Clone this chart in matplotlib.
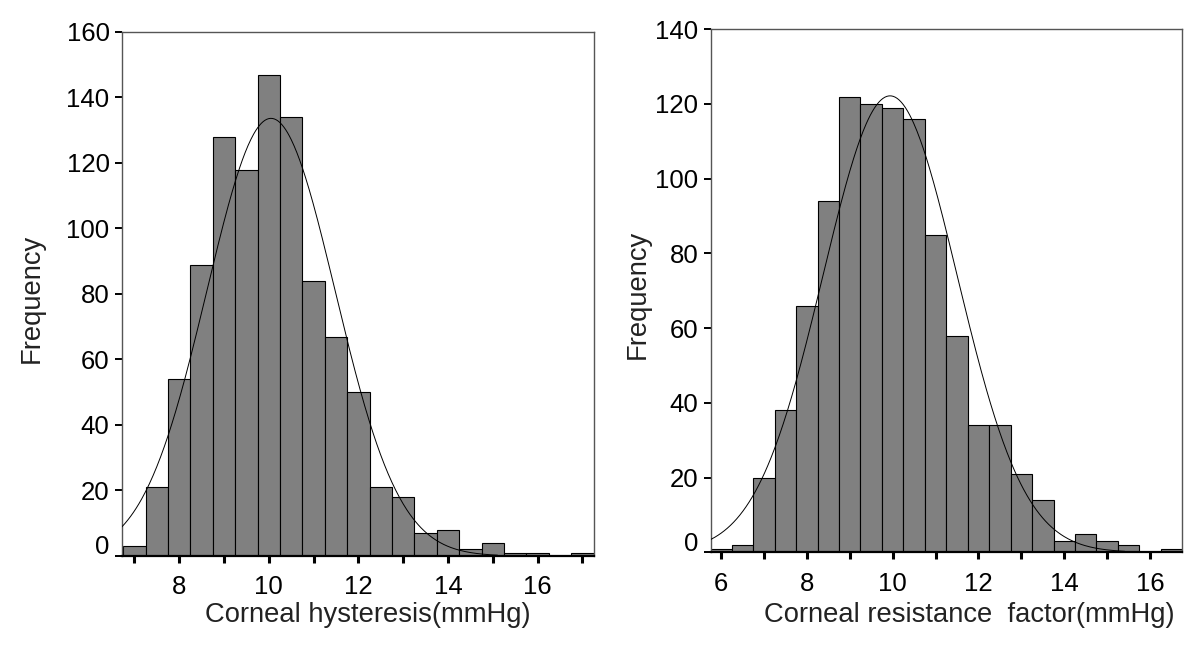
import numpy as np
import matplotlib
matplotlib.use("Agg")
import matplotlib.pyplot as plt
import matplotlib.transforms as mtransforms

plt.rcParams['font.family'] = ['Liberation Sans', 'DejaVu Sans']

# Corneal hysteresis: bin centres (0.5 mmHg bins) and counts
ch_centers = [7.0, 7.5, 8.0, 8.5, 9.0, 9.5, 10.0, 10.5, 11.0, 11.5, 12.0,
              12.5, 13.0, 13.5, 14.0, 14.5, 15.0, 15.5, 16.0, 16.5, 17.0]
ch_counts = [3, 21, 54, 89, 128, 118, 147, 134, 84, 67, 50,
             21, 18, 7, 8, 2, 4, 1, 1, 0, 1]
ch_mean, ch_sd = 10.05, 1.43

# Corneal resistance factor
crf_centers = [6.0, 6.5, 7.0, 7.5, 8.0, 8.5, 9.0, 9.5, 10.0, 10.5, 11.0,
               11.5, 12.0, 12.5, 13.0, 13.5, 14.0, 14.5, 15.0, 15.5, 16.0, 16.5]
crf_counts = [1, 2, 20, 38, 66, 94, 122, 120, 119, 116, 85,
              58, 34, 34, 21, 14, 3, 5, 3, 2, 0, 1]
crf_mean, crf_sd = 9.94, 1.564

BIN_W = 0.5
FS = 18.5
LFS = 19.7

fig = plt.figure(figsize=(12, 6.49), dpi=100)
ax1 = fig.add_axes([0.1017, 0.1433, 0.3933, 0.8074])
ax2 = fig.add_axes([0.5923, 0.1490, 0.3925, 0.8059])


def draw(ax, centers, counts, mean, sd, xlim, curve_end, ymax, xticks,
         xlabel, ylab_pos, xlab_pos):
    ax.bar(centers, counts, width=BIN_W, color='#808080', edgecolor='black',
           linewidth=0.8, zorder=2)
    n = sum(counts)
    xs = np.linspace(xlim[0], curve_end, 400)
    ys = n * BIN_W / (sd * np.sqrt(2 * np.pi)) * np.exp(-0.5 * ((xs - mean) / sd) ** 2)
    ax.plot(xs, ys, color='black', linewidth=0.7, zorder=3)

    ax.set_xlim(*xlim)
    ax.set_ylim(0, ymax)
    ax.set_yticks(np.arange(0, ymax + 1, 20))
    ax.set_xticks(xticks)
    ax.set_xticklabels([str(t) if t % 2 == 0 else '' for t in xticks])

    for s in ['left', 'top', 'right']:
        ax.spines[s].set_color('#555555')
        ax.spines[s].set_linewidth(1.0)
    ax.spines['bottom'].set_color('black')
    ax.spines['bottom'].set_linewidth(1.6)

    ax.tick_params(axis='y', direction='out', length=5, width=1.4,
                   labelsize=FS, pad=4, colors='black')
    ax.tick_params(axis='x', direction='out', length=5, width=2.2,
                   labelsize=FS, pad=9, colors='black')

    # SPSS puts the "0" label a little above its tick
    off = mtransforms.ScaledTranslation(0, 8 / 72, fig.dpi_scale_trans)
    lab0 = ax.get_yticklabels()[0]
    lab0.set_transform(lab0.get_transform() + off)

    ax.text(ylab_pos[0], ylab_pos[1], 'Frequency', rotation=90, fontsize=LFS,
            ha='center', va='center', transform=ax.transAxes, color='#222222')
    ax.text(xlab_pos[0], xlab_pos[1], xlabel, fontsize=LFS,
            ha='center', va='center', transform=ax.transAxes, color='#222222')


draw(ax1, ch_centers, ch_counts, ch_mean, ch_sd, (6.725, 17.26), 15.1, 160,
     list(range(7, 18)), 'Corneal hysteresis(mmHg)',
     (-0.191, 0.492), (0.521, -0.113))
draw(ax2, crf_centers, crf_counts, crf_mean, crf_sd, (5.76, 16.74), 15.4, 140,
     list(range(6, 17)), 'Corneal resistance  factor(mmHg)',
     (-0.156, 0.494), (0.550, -0.120))

fig.savefig('out.png', dpi=100)
